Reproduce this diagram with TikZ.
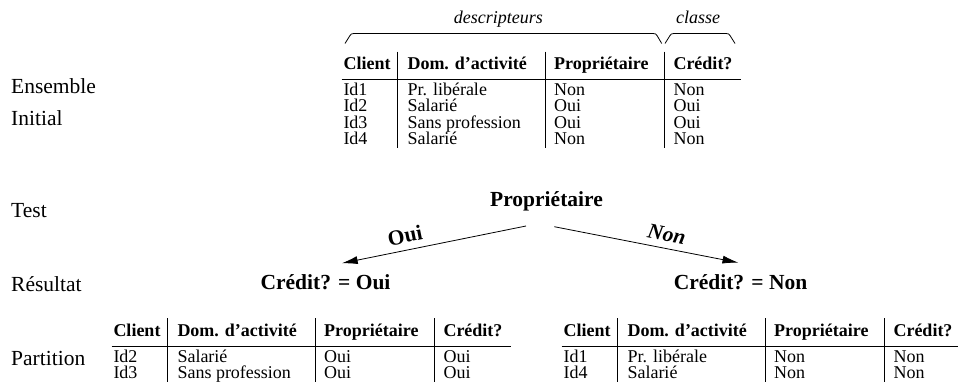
\documentclass[tikz,border=0pt]{standalone}
\usepackage{fontspec}
\setmainfont{Liberation Serif}
\usetikzlibrary{arrows.meta}
\tikzset{
  cell/.style={anchor=base west, inner sep=0pt, font=\fontsize{18}{18}\selectfont},
  headcell/.style={anchor=base west, inner sep=0pt, font=\fontsize{18}{18}\selectfont\bfseries},
  rowlabel/.style={anchor=base west, inner sep=0pt, font=\fontsize{21.5}{21.5}\selectfont},
  title/.style={anchor=base, inner sep=0pt, font=\fontsize{21.5}{21.5}\selectfont\bfseries},
  branch/.style={inner sep=0pt, font=\fontsize{21.5}{21.5}\selectfont\bfseries},
  group/.style={anchor=base, inner sep=0pt, font=\fontsize{18}{18}\selectfont\itshape},
  rule/.style={line width=0.8pt},
  flow/.style={line width=0.8pt, -{Latex[length=16pt,width=8pt]}},
}
\begin{document}
\begin{tikzpicture}[x=1pt,y=-1pt]
\useasboundingbox (0,0) rectangle (958,387);

% row labels on the left
\node[rowlabel] (lEns)  at (11,94)    {Ensemble};
\node[rowlabel] (lIni)  at (11,126)   {Initial};
\node[rowlabel] (lTest) at (11,217.7) {Test};
\node[rowlabel] (lRes)  at (11,291)   {Résultat};
\node[rowlabel] (lPart) at (11,365)   {Partition};

% braces over the column groups
\draw[rule] (345,43.5) -- (350,35.5) .. controls (351.2,33.8) .. (354,33.5)
  -- (653,33.5) .. controls (655.8,33.8) .. (657,35.5) -- (661.7,43.5);
\draw[rule] (665,43.5) -- (670,35.5) .. controls (671.2,33.8) .. (674,33.5)
  -- (726,33.5) .. controls (728.8,33.8) .. (730,35.5) -- (735,43.5);
\node[group] (gDesc)   at (498.3,23.3) {descripteurs};
\node[group] (gClasse) at (698,23.3)   {classe};

% initial data set
\begin{scope}[shift={(343.3,69.3)}]
  \node[headcell] (t-h1) at (0,0)     {Client};
  \node[headcell] (t-h2) at (64,0)    {Dom. d’activité};
  \node[headcell] (t-h3) at (210.7,0) {Propriétaire};
  \node[headcell] (t-h4) at (330,0)   {Crédit?};
  \draw[rule] (-1.6,10) -- (397.4,10);
  \foreach \x in {54.4,201.7,321} \draw[rule] (\x,-17.6) -- (\x,79);
  \node[cell] (t-a1) at (0,26)     {Id1};
  \node[cell] (t-a2) at (64,26)    {Pr. libérale};
  \node[cell] (t-a3) at (210.7,26) {Non};
  \node[cell] (t-a4) at (330,26)   {Non};
  \node[cell] (t-b1) at (0,42.4)     {Id2};
  \node[cell] (t-b2) at (64,42.4)    {Salarié};
  \node[cell] (t-b3) at (210.7,42.4) {Oui};
  \node[cell] (t-b4) at (330,42.4)   {Oui};
  \node[cell] (t-c1) at (0,58.8)     {Id3};
  \node[cell] (t-c2) at (64,58.8)    {Sans profession};
  \node[cell] (t-c3) at (210.7,58.8) {Oui};
  \node[cell] (t-c4) at (330,58.8)   {Oui};
  \node[cell] (t-d1) at (0,75.2)     {Id4};
  \node[cell] (t-d2) at (64,75.2)    {Salarié};
  \node[cell] (t-d3) at (210.7,75.2) {Non};
  \node[cell] (t-d4) at (330,75.2)   {Non};
\end{scope}

% test and branches
\node[title] (test) at (546.5,207) {Propriétaire};
\coordinate (ouiStart) at (526,226);
\coordinate (ouiEnd)   at (341.7,263.3);
\coordinate (nonStart) at (554.3,226.7);
\coordinate (nonEnd)   at (738.5,262.7);
\draw[flow] (ouiStart) -- (ouiEnd);
\draw[flow] (nonStart) -- (nonEnd);
\node[branch, rotate=11.4]  (bOui) at (405,235.5) {Oui};
\node[branch, rotate=-11.1] (bNon) at (666.7,234) {\itshape Non};

% results
\node[title] (rOui) at (325.5,290) {Crédit? = Oui};
\node[title] (rNon) at (740.5,290) {Crédit? = Non};

% partition: owners
\begin{scope}[shift={(113.3,336)}]
  \node[headcell] (p-h1) at (0,0)     {Client};
  \node[headcell] (p-h2) at (64,0)    {Dom. d’activité};
  \node[headcell] (p-h3) at (210.7,0) {Propriétaire};
  \node[headcell] (p-h4) at (330,0)   {Crédit?};
  \draw[rule] (-1.6,10) -- (397.4,10);
  \foreach \x in {54.4,201.7,321} \draw[rule] (\x,-17.6) -- (\x,45.7);
  \node[cell] (p-a1) at (0,26)     {Id2};
  \node[cell] (p-a2) at (64,26)    {Salarié};
  \node[cell] (p-a3) at (210.7,26) {Oui};
  \node[cell] (p-a4) at (330,26)   {Oui};
  \node[cell] (p-b1) at (0,42.4)     {Id3};
  \node[cell] (p-b2) at (64,42.4)    {Sans profession};
  \node[cell] (p-b3) at (210.7,42.4) {Oui};
  \node[cell] (p-b4) at (330,42.4)   {Oui};
\end{scope}

% partition: non-owners
\begin{scope}[shift={(563.3,336)}]
  \node[headcell] (q-h1) at (0,0)     {Client};
  \node[headcell] (q-h2) at (64,0)    {Dom. d’activité};
  \node[headcell] (q-h3) at (210.7,0) {Propriétaire};
  \node[headcell] (q-h4) at (330,0)   {Crédit?};
  \draw[rule] (-1.6,10) -- (397.4,10);
  \foreach \x in {54.4,201.7,321} \draw[rule] (\x,-17.6) -- (\x,45.7);
  \node[cell] (q-a1) at (0,26)     {Id1};
  \node[cell] (q-a2) at (64,26)    {Pr. libérale};
  \node[cell] (q-a3) at (210.7,26) {Non};
  \node[cell] (q-a4) at (330,26)   {Non};
  \node[cell] (q-b1) at (0,42.4)     {Id4};
  \node[cell] (q-b2) at (64,42.4)    {Salarié};
  \node[cell] (q-b3) at (210.7,42.4) {Non};
  \node[cell] (q-b4) at (330,42.4)   {Non};
\end{scope}
\end{tikzpicture}
\end{document}
